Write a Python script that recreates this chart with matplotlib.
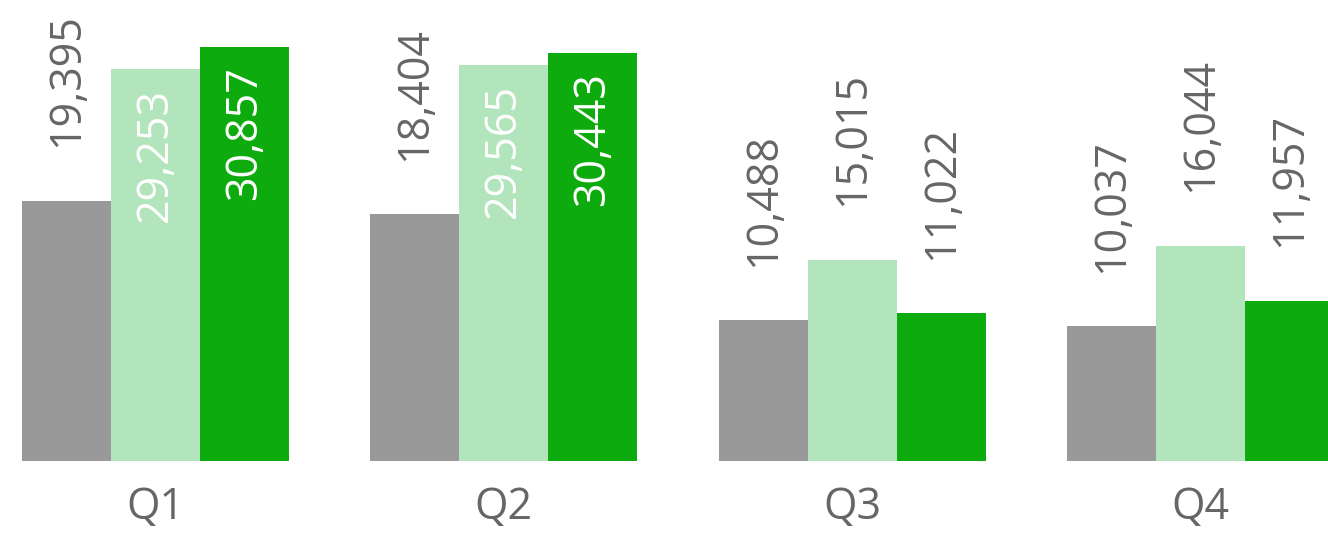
import matplotlib.pyplot as plt
import numpy as np

plt.rcParams['font.family'] = ['Open Sans', 'DejaVu Sans']

quarters = ['Q1', 'Q2', 'Q3', 'Q4']
series_a = [19395, 18404, 10488, 10037]
series_b = [29253, 29565, 15015, 16044]
series_c = [30857, 30443, 11022, 11957]

colors = ['#999999', '#b3e5bc', '#0eab0e']
text_grey = '#666666'

fig = plt.figure(figsize=(13.28, 5.35), dpi=100)
ax = fig.add_axes([0, 74 / 535, 1, 461 / 535])

x = np.arange(len(quarters))
width = 0.2554
offsets = [-width, 0, width]

for vals, off, col in zip([series_a, series_b, series_c], offsets, colors):
    bars = ax.bar(x + off, vals, width=width, color=col, linewidth=0)
    for b, v in zip(bars, vals):
        cx = b.get_x() + b.get_width() / 2
        label = f"{v:,}"
        if v > 25000:
            # tall bars: label sits inside, near the top
            ax.annotate(label, (cx, v), xytext=(0, -13.7), textcoords='offset points',
                        rotation=90, ha='center', va='top', fontsize=31,
                        color='white', annotation_clip=False)
        else:
            ax.annotate(label, (cx, v), xytext=(0, 38.5), textcoords='offset points',
                        rotation=90, ha='center', va='bottom', fontsize=31,
                        color=text_grey, annotation_clip=False)

ax.set_xlim(-0.446, 3.3646)
ax.set_ylim(0, 34378)
ax.set_xticks(x)
ax.set_xticklabels(quarters, fontsize=31, color=text_grey)
ax.tick_params(axis='x', length=0, pad=18)
ax.set_yticks([])
for s in ax.spines.values():
    s.set_visible(False)

fig.savefig('out.png', dpi=100)
